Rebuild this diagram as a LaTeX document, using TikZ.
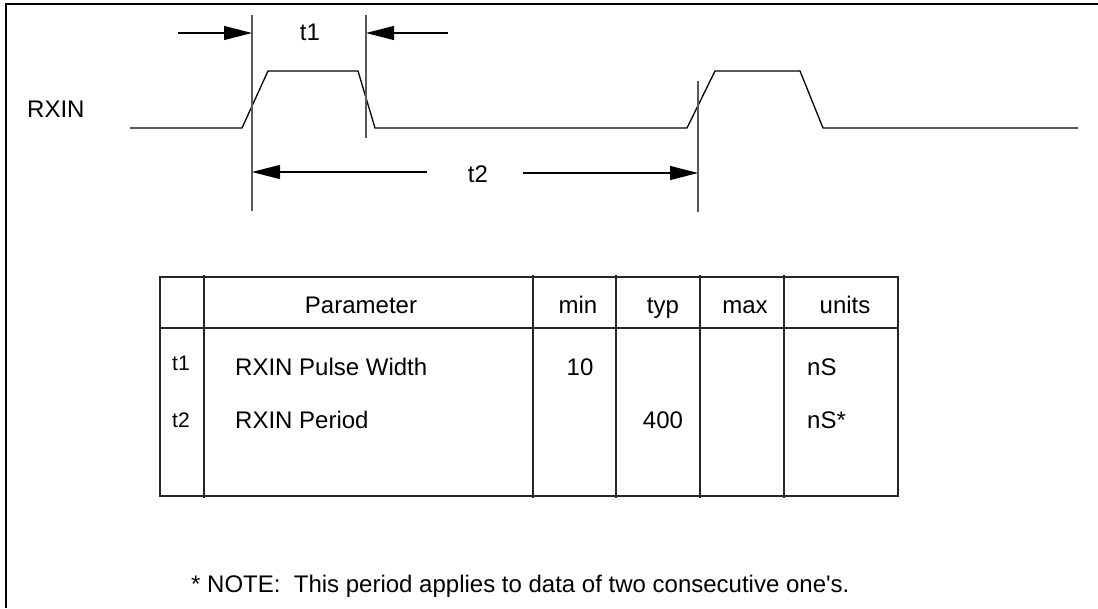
\documentclass[tikz,border=0pt]{standalone}
\usepackage{fontspec}
\setmainfont{Liberation Sans}[Ligatures=TeXOff]
\usetikzlibrary{arrows.meta}
\begin{document}
\begin{tikzpicture}[x=1pt,y=-1pt,
  wave/.style={line width=1.3pt, black, line join=miter},
  guide/.style={line width=1.4pt, black!65},
  dimarrow/.style={line width=1.2pt, -{Triangle[length=28pt,width=14pt]}},
  frame/.style={line width=2.6pt, black},
  grid/.style={line width=1.3pt, black!85},
  lbl/.style={inner sep=0pt, font=\fontsize{24}{28}\selectfont},
  smalllbl/.style={inner sep=0pt, font=\fontsize{21}{24}\selectfont}]
\useasboundingbox (0,0) rectangle (1098,608);

% frame
\coordinate (fTL) at (6,4);
\coordinate (fTR) at (1098,4);
\coordinate (fBL) at (6,608);
\draw[frame] (fTR) -- (fTL) -- (fBL);

% signal label
\node[lbl, anchor=base west] (rxin) at (27,117) {RXIN};

% waveform
\draw[wave] (130,128) -- (242,128) -- (268,71) -- (358,71) -- (375,128)
  -- (687,128) -- (715,71) -- (800,71) -- (823,128) -- (1078,128);

% guide lines
\coordinate (g1t) at (252,15);  \coordinate (g1b) at (252,211);
\coordinate (g2t) at (366,15);  \coordinate (g2b) at (366,138);
\coordinate (g3t) at (698,81);  \coordinate (g3b) at (698,212);
\draw[guide] (g1t) -- (g1b);
\draw[guide] (g2t) -- (g2b);
\draw[guide] (g3t) -- (g3b);

% dimension arrows
\coordinate (a1s) at (178,33);  \coordinate (a1e) at (252,33);
\coordinate (a2s) at (448,33);  \coordinate (a2e) at (366,33);
\coordinate (a3s) at (427,172); \coordinate (a3e) at (252,172);
\coordinate (a4s) at (523,173); \coordinate (a4e) at (698,173);
\draw[dimarrow] (a1s) -- (a1e);
\draw[dimarrow] (a2s) -- (a2e);
\draw[dimarrow] (a3s) -- (a3e);
\draw[dimarrow] (a4s) -- (a4e);
\node[lbl, anchor=base] (t1lbl) at (310,40) {t1};
\node[lbl, anchor=base] (t2lbl) at (478,182) {t2};

% table
\draw[grid] (160,277) rectangle (898,496);
\draw[grid] (160,328) -- (898,328);
\foreach \cx in {204,533,616,700,784}
  \draw[grid] (\cx,275) -- (\cx,498);

% header
\node[lbl, anchor=base] (hpar) at (361,313) {Parameter};
\node[lbl, anchor=base] (hmin) at (578,313) {min};
\node[lbl, anchor=base] (htyp) at (663,313) {typ};
\node[lbl, anchor=base] (hmax) at (745,313) {max};
\node[lbl, anchor=base] (hunits) at (845,313) {units};

% row 1
\node[smalllbl, anchor=base] (r1id) at (181,370) {t1};
\node[lbl, anchor=base west] (r1par) at (235,375) {RXIN Pulse Width};
\node[lbl, anchor=base] (r1min) at (580,375) {10};
\node[lbl, anchor=base west] (r1unit) at (807,375) {nS};

% row 2
\node[smalllbl, anchor=base] (r2id) at (181,427) {t2};
\node[lbl, anchor=base west] (r2par) at (235,428) {RXIN Period};
\node[lbl, anchor=base] (r2typ) at (663,428) {400};
\node[lbl, anchor=base west] (r2unit) at (807,428) {nS*};

% note
\node[lbl, anchor=base west] (note) at (191,592) {* NOTE:\ \ This period applies to data of two consecutive one's.};
\end{tikzpicture}
\end{document}
